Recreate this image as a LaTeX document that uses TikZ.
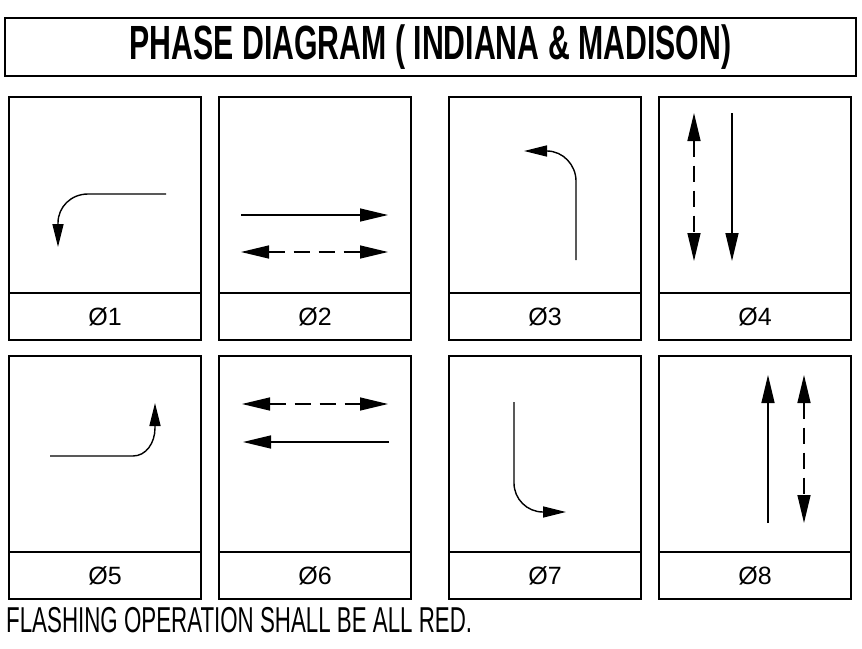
\documentclass[tikz,border=0pt]{standalone}
\usepackage{fontspec}
\setmainfont{Liberation Sans}
\usetikzlibrary{arrows.meta, positioning}

\tikzset{
  frame/.style={draw, line width=2.2pt, inner sep=0pt},
  panel/.style={draw, line width=2pt, minimum width=192pt, minimum height=243pt,
                inner sep=0pt, anchor=north west},
  phaselabel/.style={font=\fontsize{25}{25}\selectfont, inner sep=0pt},
  move/.style={line width=1.4pt, -{Triangle[length=28pt, width=13pt]}},
  turn/.style={line width=1.4pt, -{Triangle[length=23pt, width=11pt]}},
  both/.style={line width=1.4pt, dash pattern=on 16pt off 9pt,
               {Triangle[length=28pt, width=13pt]}-{Triangle[length=28pt, width=13pt]}}
}

\begin{document}
\begin{tikzpicture}[x=1pt, y=-1pt]
  \useasboundingbox (0,0) rectangle (862,648);

  \node[frame, minimum width=851pt, minimum height=58pt] (title) at (430.5,47)
    {\scalebox{0.63}[1]{\fontsize{48}{48}\selectfont\bfseries PHASE DIAGRAM ( INDIANA \& MADISON)}};

  \foreach \n/\x/\y in {1/8/96, 2/218/96, 3/448/96, 4/658/96,
                        5/8/355, 6/218/355, 7/448/355, 8/658/355}{
    \node[panel] (p\n) at (\x,\y) {};
    \draw[line width=2pt] ([yshift=48pt]p\n.south west) -- ([yshift=48pt]p\n.south east);
    \node[phaselabel] (l\n) at ([yshift=24pt]p\n.south) {Ø\n};
  }

  % phase movements
  \draw[turn] (166,194) -- (88,194) .. controls (71,194) and (58,207) .. (58,223) -- (58,247);
  \draw[move] (241,215) -- (388,215);
  \draw[both] (241,252) -- (388,252);
  \draw[turn] (576,260) -- (576,181) .. controls (576,165) and (563,151) .. (547,151) -- (524,151);
  \draw[both] (694,113) -- (694,261);
  \draw[move] (732,113) -- (732,261);
  \draw[turn] (50,456) -- (133,456) .. controls (146,456) and (155,443) .. (155,428) -- (155,403);
  \draw[both] (242,404) -- (388,404);
  \draw[move] (389,442) -- (243,442);
  \draw[turn] (514,402) -- (514,483) .. controls (514,499) and (527,512) .. (543,512) -- (566,512);
  \draw[move] (768,523) -- (768,375);
  \draw[both] (804,375) -- (804,523);

  \node[anchor=west, inner sep=0pt] (note) at (6,620)
    {\scalebox{0.62}[1]{\fontsize{36}{36}\selectfont FLASHING OPERATION SHALL BE ALL RED.}};
\end{tikzpicture}
\end{document}
